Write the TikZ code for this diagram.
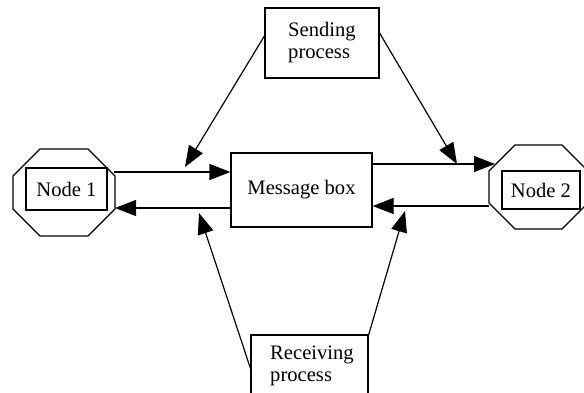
\documentclass[tikz,border=0pt]{standalone}
\usepackage{fontspec}
\setmainfont{Liberation Serif}
\usetikzlibrary{arrows.meta}
\begin{document}
\begin{tikzpicture}[x=0.5pt,y=-0.5pt,
  line width=0.6pt,
  box/.style={draw, rectangle, inner sep=0pt, font=\fontsize{10.3}{11}\selectfont},
  txt/.style={inner sep=0pt, align=left, font=\fontsize{10.3}{11}\selectfont},
  arr/.style={-{Triangle[length=10.5pt,width=8pt]}}]
\useasboundingbox (0,0) rectangle (584,392);
\begin{scope}
\clip (0,0) rectangle (584,392);
% octagons
\draw (40,149) -- (88,149) -- (115,176) -- (115,209) -- (88,236) -- (40,236) -- (13,209) -- (13,176) -- cycle;
\draw (515,145) -- (562,145) -- (588,171) -- (588,203) -- (562,229) -- (515,229) -- (489,203) -- (489,171) -- cycle;
% boxes
\node[box, minimum width=57pt, minimum height=35pt, align=left] (send) at (322,43) {Sending\\process};
\node[box, minimum width=70.5pt, minimum height=37pt] (msg) at (301.5,190) {Message box};
\node[box, minimum width=58.5pt, minimum height=42.5pt] (recv) at (309.5,377.5) {};
\node[txt] (recvtext) at (312,366) {Receiving\\process};
\node[box, minimum width=40.5pt, minimum height=21pt] (n1) at (66.5,189) {Node 1};
\node[box, minimum width=39pt, minimum height=19pt] (n2) at (541,190) {Node 2};
\end{scope}
% attach points on the octagons
\coordinate (o1a) at (114,172);
\coordinate (o1b) at (115,208);
\coordinate (o2a) at (495,164);
\coordinate (o2b) at (489,206);
% free ends and start points of the diagonal arrows
\coordinate (s1) at (265,35);
\coordinate (s2) at (379,32);
\coordinate (t1) at (185,167);
\coordinate (t2) at (457,164);
\coordinate (r1) at (251,370);
\coordinate (r2) at (368,337);
\coordinate (u1) at (199,213);
\coordinate (u2) at (405,211);
% horizontal connectors
\draw[arr] (o1a) -- (o1a -| msg.west);
\draw[arr] (o1b -| msg.west) -- (o1b);
\draw[arr] (o2a -| msg.east) -- (o2a);
\draw[arr] (o2b) -- (o2b -| msg.east);
% diagonal connectors
\draw[arr] (s1) -- (t1);
\draw[arr] (s2) -- (t2);
\draw[arr] (r1) -- (u1);
\draw[arr] (r2) -- (u2);
\end{tikzpicture}
\end{document}
